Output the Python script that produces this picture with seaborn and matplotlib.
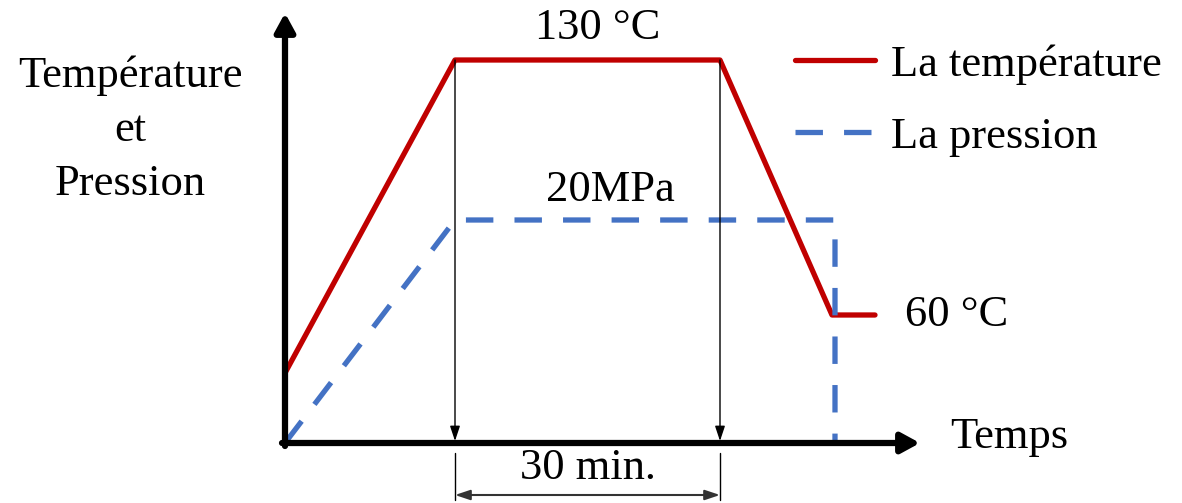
import pandas as pd
import matplotlib.pyplot as plt
import seaborn as sns

# schematic cycle (arbitrary units: time along x, level along y)
temps_t = [0, 170, 435, 547, 590]
temps_v = [70, 383, 383, 128, 128]
press_t = [0, 170, 550, 550]
press_v = [0, 223, 223, 0]
hold_start, hold_end = 170, 435

sns.set_style("white")
plt.rcParams['font.family'] = ['Liberation Serif', 'DejaVu Serif']
plt.rcParams['text.color'] = 'black'

fig = plt.figure(figsize=(11.82, 5.03), dpi=100)
ax = fig.add_axes([0, 0, 1, 1])

df_t = pd.DataFrame({'t': temps_t, 'v': temps_v})
df_p = pd.DataFrame({'t': press_t, 'v': press_v})
sns.lineplot(data=df_t, x='t', y='v', ax=ax, color='#C00000', lw=3.8, sort=False,
             estimator=None, errorbar=None, label='La température')
sns.lineplot(data=df_p, x='t', y='v', ax=ax, color='#4472C4', lw=3.8, sort=False,
             estimator=None, errorbar=None, label='La pression')
ax.lines[1].set_dashes((5.2, 4.0))

ax.set_xlim(-285, 897)
ax.set_ylim(-60, 443)
ax.axis('off')

# axes with arrows
ax.annotate('', xy=(635, 0), xytext=(-3, 0),
            arrowprops=dict(arrowstyle='-|>,head_length=1.1,head_width=0.6', lw=4.5, color='black',
                            shrinkA=0, shrinkB=0))
ax.annotate('', xy=(0, 430), xytext=(0, -3),
            arrowprops=dict(arrowstyle='-|>,head_length=1.1,head_width=0.6', lw=4.5, color='black',
                            shrinkA=0, shrinkB=0))

# thin verticals marking the hold
for x in [hold_start, hold_end]:
    ax.annotate('', xy=(x, 2), xytext=(x, 383),
                arrowprops=dict(arrowstyle='-|>,head_length=0.9,head_width=0.3', lw=1, color='black',
                                shrinkA=0, shrinkB=0))
    ax.plot([x, x], [-10, -57], color='black', lw=1)
ax.annotate('', xy=(hold_start, -52), xytext=(hold_end, -52),
            arrowprops=dict(arrowstyle='<|-|>,head_length=0.9,head_width=0.3', lw=1.5, color='#333333',
                            shrinkA=0, shrinkB=0))

fs = 32
ax.text(-155, 313, 'Température\net\nPression', ha='center', va='center', fontsize=fs, linespacing=1.45)
ax.text(313, 415, '130 °C', ha='center', va='center', fontsize=fs)
ax.text(325, 253, '20MPa', ha='center', va='center', fontsize=fs)
ax.text(620, 128, '60 °C', ha='left', va='center', fontsize=fs)
ax.text(665, 6, 'Temps', ha='left', va='center', fontsize=fs)
ax.text(303, -25, '30 min.', ha='center', va='center', fontsize=fs)

ax.legend(loc='upper left', bbox_to_anchor=(773 / 1182, 1 - 22 / 503), frameon=False,
          fontsize=fs, handlelength=1.8, handletextpad=0.35, labelspacing=0.72, borderpad=0)

fig.savefig('out.png', dpi=100)
